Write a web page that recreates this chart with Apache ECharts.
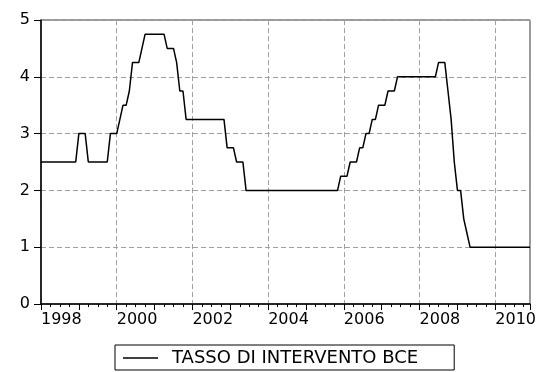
<!DOCTYPE html>
<html>
<head>
<meta charset="utf-8">
<script src="https://cdn.jsdelivr.net/npm/echarts@6/dist/echarts.min.js"></script>
<style>
  html, body { margin: 0; padding: 0; background: #fff; }
  #chart { width: 542px; height: 372px; }
</style>
</head>
<body>
<div id="chart"></div>
<script>
// monthly values, one array per year (Jan..Dec)
const r1998 = [2.5, 2.5, 2.5, 2.5, 2.5, 2.5, 2.5, 2.5, 2.5, 2.5, 2.5, 2.5];
const r1999 = [3, 3, 3, 2.5, 2.5, 2.5, 2.5, 2.5, 2.5, 2.5, 3, 3];
const r2000 = [3, 3.25, 3.5, 3.5, 3.75, 4.25, 4.25, 4.25, 4.5, 4.75, 4.75, 4.75];
const r2001 = [4.75, 4.75, 4.75, 4.75, 4.5, 4.5, 4.5, 4.25, 3.75, 3.75, 3.25, 3.25];
const r2002 = [3.25, 3.25, 3.25, 3.25, 3.25, 3.25, 3.25, 3.25, 3.25, 3.25, 3.25, 2.75];
const r2003 = [2.75, 2.75, 2.5, 2.5, 2.5, 2, 2, 2, 2, 2, 2, 2];
const r2004 = [2, 2, 2, 2, 2, 2, 2, 2, 2, 2, 2, 2];
const r2005 = [2, 2, 2, 2, 2, 2, 2, 2, 2, 2, 2, 2.25];
const r2006 = [2.25, 2.25, 2.5, 2.5, 2.5, 2.75, 2.75, 3, 3, 3.25, 3.25, 3.5];
const r2007 = [3.5, 3.5, 3.75, 3.75, 3.75, 4, 4, 4, 4, 4, 4, 4];
const r2008 = [4, 4, 4, 4, 4, 4, 4.25, 4.25, 4.25, 3.75, 3.25, 2.5];
const r2009 = [2, 2, 1.5, 1.25, 1, 1, 1, 1, 1, 1, 1, 1];
const r2010 = [1, 1, 1, 1, 1, 1, 1, 1, 1, 1, 1, 1];

const yearLabels = ["1998", "2000", "2002", "2004", "2006", "2008", "2010"];
const seriesName = "TASSO DI INTERVENTO BCE";

const rates = [].concat(r1998, r1999, r2000, r2001, r2002, r2003, r2004,
  r2005, r2006, r2007, r2008, r2009, r2010);
// x = months since 1998M01
const points = rates.map((v, i) => [i, v]);
const lastMonth = rates.length - 1;

const FONT = "DejaVu Sans";
const gridLine = { color: "#a0a0a0", width: 1, type: [5, 3] };

let myChart = echarts.init(document.getElementById("chart"));
let option = {
  animation: false,
  grid: {
    left: 41, right: 12, top: 20, bottom: 68,
    show: true, borderColor: "#333", borderWidth: 1
  },
  legend: {
    data: [{ name: seriesName, icon: "rect" }],
    left: 115, top: 345,
    orient: "horizontal",
    borderColor: "#000", borderWidth: 1, borderRadius: 0,
    padding: [4, 36, 3, 8],
    itemWidth: 35, itemHeight: 1.5,
    itemStyle: { color: "#000", borderWidth: 0 },
    lineStyle: { color: "#000", width: 1.5 },
    textStyle: { fontFamily: FONT, fontSize: 18, color: "#000", padding: [0, 0, 0, 9] }
  },
  xAxis: [
    {
      // yearly ticks with quarterly minor ticks
      type: "value", min: 0, max: lastMonth, interval: 12, position: "bottom",
      axisLine: { show: true, lineStyle: { color: "#000", width: 1.5 } },
      axisTick: { show: true, length: 6, lineStyle: { color: "#000", width: 1 } },
      minorTick: { show: true, splitNumber: 4, length: 3, lineStyle: { color: "#000", width: 1 } },
      axisLabel: { show: false },
      splitLine: { show: false }
    },
    {
      // labels and vertical grid every two years
      type: "value", min: 0, max: lastMonth, interval: 24, position: "bottom",
      axisLine: { show: false },
      axisTick: { show: false },
      axisLabel: {
        show: true, align: "left", margin: 8, showMaxLabel: false,
        fontFamily: FONT, fontSize: 16, color: "#000",
        formatter: (v) => (v % 24 === 0 ? yearLabels[v / 24] : "")
      },
      splitLine: { show: true, lineStyle: gridLine }
    }
  ],
  yAxis: {
    type: "value", min: 0, max: 5, interval: 1,
    axisLine: { show: true, lineStyle: { color: "#000", width: 1.5 } },
    axisTick: { show: true, length: 7, lineStyle: { color: "#000", width: 1 } },
    axisLabel: { margin: 11, fontFamily: FONT, fontSize: 16, color: "#000" },
    splitLine: { show: true, lineStyle: gridLine }
  },
  series: [
    {
      name: seriesName,
      type: "line",
      xAxisIndex: 0,
      data: points,
      symbol: "none",
      lineStyle: { color: "#000", width: 1.5 },
      itemStyle: { color: "#000" }
    }
  ]
};
myChart.setOption(option);
</script>
</body>
</html>
